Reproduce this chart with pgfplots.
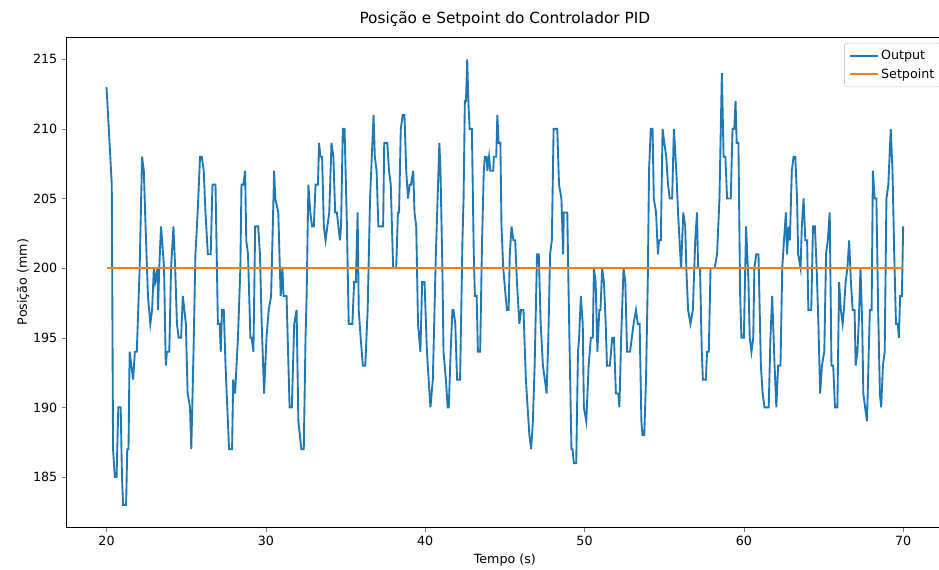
\documentclass[border=0pt]{standalone}
\usepackage{pgfplots}
\pgfplotsset{compat=1.18}
\usepackage{fontspec}
\setmainfont{DejaVu Sans}
\definecolor{tabblue}{HTML}{1F77B4}
\definecolor{taborange}{HTML}{FF7F0E}
\begin{document}
\begin{tikzpicture}
\begin{axis}[
  width=657pt, height=367.5pt, scale only axis,
  xmin=17.5, xmax=72.5, ymin=181.4, ymax=216.6,
  xtick={20,30,...,70}, ytick={185,190,...,215},
  tick align=outside, major tick length=3.5pt,
  xtick pos=bottom, ytick pos=left,
  tick label style={font=\fontsize{9.5}{11}\selectfont},
  /pgf/number format/assume math mode=true,
  /pgf/number format/1000 sep={},
  title={Posição e Setpoint do Controlador PID},
  title style={font=\fontsize{11.5}{13}\selectfont, yshift=-2pt},
  xlabel={Tempo (s)}, ylabel={Posição (mm)},
  label style={font=\fontsize{9.5}{11}\selectfont},
  xlabel style={yshift=1pt}, ylabel style={yshift=-4pt},
  axis line style={line width=0.6pt},
  legend style={font=\fontsize{9.5}{11}\selectfont, draw=black!20, rounded corners=2pt, at={(0.998,0.988)}, anchor=north east, row sep=1.5pt, inner sep=3pt},
  legend cell align=left,
  legend image code/.code={\draw[#1] (0pt,0pt) -- (21pt,0pt);},
  legend image post style={line width=1.5pt},
]
\addplot[tabblue, line width=1.4pt] coordinates {
(20.00,213) (20.19,209) (20.33,206) (20.41,187) (20.52,185) (20.63,185) (20.74,190) (20.89,190) (20.97,185) (21.04,183) (21.23,183) (21.30,187) (21.38,187) (21.45,194) (21.56,193) (21.67,192) (21.78,194) (21.90,194) (22.08,200) (22.23,208) (22.34,207) (22.45,203) (22.60,198) (22.75,196) (22.86,197) (22.97,200) (23.05,199) (23.20,200) (23.23,197) (23.31,200) (23.42,203) (23.49,202) (23.61,200) (23.72,193) (23.79,194) (23.94,194) (24.05,200) (24.20,203) (24.31,200) (24.42,196) (24.53,195) (24.68,195) (24.79,198) (24.98,196) (25.09,191) (25.24,190) (25.32,187) (25.46,194) (25.58,201) (25.72,204) (25.87,208) (25.98,208) (26.10,207) (26.21,204) (26.36,201) (26.54,201) (26.65,206) (26.84,206) (26.99,196) (27.10,196) (27.17,194) (27.25,197) (27.36,197) (27.47,193) (27.58,190) (27.69,187) (27.88,187) (27.95,192) (28.07,191) (28.25,195) (28.40,200) (28.47,206) (28.59,206) (28.70,207) (28.77,202) (28.88,201) (29.03,195) (29.11,195) (29.22,194) (29.33,203) (29.52,203) (29.63,201) (29.74,196) (29.89,191) (30.04,195) (30.18,197) (30.33,198) (30.52,207) (30.59,205) (30.78,204) (30.93,198) (31.04,200) (31.11,198) (31.30,198) (31.49,190) (31.63,190) (31.78,196) (31.93,197) (32.04,189) (32.23,187) (32.38,187) (32.49,195) (32.56,198) (32.67,206) (32.79,204) (32.90,203) (33.01,203) (33.12,206) (33.27,206) (33.34,209) (33.42,208) (33.53,208) (33.64,203) (33.75,202) (33.86,203) (33.98,204) (34.12,209) (34.24,208) (34.35,204) (34.46,204) (34.65,202) (34.72,203) (34.83,210) (34.94,210) (35.09,203) (35.20,196) (35.43,196) (35.54,199) (35.65,199) (35.76,204) (35.83,197) (35.95,195) (36.09,193) (36.24,193) (36.39,197) (36.54,205) (36.65,208) (36.76,211) (36.84,208) (36.95,207) (37.06,203) (37.36,203) (37.43,209) (37.62,209) (37.73,207) (37.84,206) (37.99,200) (38.18,200) (38.29,204) (38.36,204) (38.47,210) (38.59,211) (38.70,211) (38.81,207) (38.92,205) (39.03,206) (39.11,206) (39.25,207) (39.33,204) (39.44,203) (39.55,196) (39.70,194) (39.81,199) (39.96,199) (40.11,194) (40.22,192) (40.33,190) (40.48,192) (40.67,201) (40.78,205) (40.89,209) (40.96,207) (41.08,200) (41.15,194) (41.30,192) (41.41,190) (41.48,190) (41.60,194) (41.71,197) (41.78,197) (41.89,196) (42.00,192) (42.19,192) (42.34,202) (42.41,205) (42.49,212) (42.56,212) (42.64,215) (42.71,212) (42.79,210) (42.93,210) (43.05,201) (43.12,198) (43.23,198) (43.31,194) (43.45,194) (43.57,202) (43.68,207) (43.75,208) (43.86,208) (43.90,207) (44.01,208) (44.09,207) (44.27,207) (44.31,208) (44.46,208) (44.53,211) (44.61,209) (44.72,209) (44.79,203) (44.90,200) (45.05,198) (45.13,197) (45.24,197) (45.31,201) (45.42,203) (45.54,202) (45.65,202) (45.76,199) (45.91,196) (46.02,197) (46.17,197) (46.32,192) (46.43,190) (46.54,188) (46.65,187) (46.76,189) (46.87,193) (47.02,201) (47.13,201) (47.25,196) (47.39,193) (47.51,192) (47.62,191) (47.73,195) (47.84,201) (47.95,202) (48.06,210) (48.29,210) (48.40,206) (48.55,205) (48.66,201) (48.70,204) (48.92,204) (48.99,199) (49.18,187) (49.25,187) (49.33,186) (49.48,186) (49.59,194) (49.66,195) (49.77,198) (49.89,196) (49.96,190) (50.11,189) (50.26,193) (50.40,195) (50.52,195) (50.59,200) (50.70,199) (50.81,194) (50.93,197) (51.00,197) (51.11,200) (51.22,199) (51.33,196) (51.41,193) (51.59,193) (51.74,195) (51.85,195) (51.97,191) (52.12,191) (52.19,190) (52.30,195) (52.45,200) (52.56,199) (52.67,194) (52.86,194) (53.08,196) (53.23,197) (53.34,196) (53.46,196) (53.57,189) (53.64,188) (53.75,188) (53.86,192) (53.97,199) (54.05,207) (54.16,210) (54.27,210) (54.35,205) (54.49,204) (54.61,201) (54.68,202) (54.79,202) (54.90,210) (55.01,209) (55.13,208) (55.24,206) (55.35,205) (55.50,205) (55.61,210) (55.76,207) (55.87,204) (56.06,200) (56.20,204) (56.32,203) (56.39,200) (56.50,197) (56.65,196) (56.80,197) (56.95,202) (57.06,204) (57.13,200) (57.25,200) (57.36,194) (57.43,192) (57.62,192) (57.69,194) (57.80,194) (57.91,200) (58.17,200) (58.32,201) (58.47,205) (58.62,214) (58.73,208) (58.84,208) (58.95,205) (59.18,205) (59.29,210) (59.40,210) (59.48,212) (59.55,209) (59.66,209) (59.77,198) (59.85,195) (60.00,195) (60.14,203) (60.29,199) (60.37,195) (60.48,194) (60.59,195) (60.66,200) (60.78,201) (60.92,201) (61.07,193) (61.18,191) (61.30,190) (61.56,190) (61.67,195) (61.78,198) (61.93,193) (62.04,190) (62.15,193) (62.30,193) (62.41,200) (62.52,202) (62.64,204) (62.71,201) (62.82,203) (62.89,202) (63.01,207) (63.12,208) (63.23,208) (63.34,205) (63.41,201) (63.56,200) (63.64,203) (63.75,205) (63.86,202) (63.97,202) (64.05,197) (64.23,197) (64.34,203) (64.46,203) (64.57,200) (64.68,196) (64.79,191) (64.90,193) (65.05,194) (65.16,201) (65.27,202) (65.39,204) (65.50,193) (65.61,193) (65.72,190) (65.87,190) (65.98,199) (66.09,197) (66.20,196) (66.28,197) (66.39,199) (66.50,200) (66.61,202) (66.72,199) (66.83,197) (66.95,197) (67.02,193) (67.13,194) (67.21,196) (67.32,200) (67.43,196) (67.50,191) (67.61,190) (67.73,189) (67.84,194) (67.91,197) (68.02,197) (68.10,207) (68.21,205) (68.32,205) (68.43,197) (68.54,191) (68.62,190) (68.73,193) (68.84,194) (68.95,205) (69.07,206) (69.22,210) (69.33,207) (69.44,201) (69.55,196) (69.66,196) (69.73,195) (69.81,198) (69.92,198) (70.00,203)
};
\addlegendentry{Output}
\addplot[taborange, line width=1.5pt] coordinates {(20,200) (70,200)};
\addlegendentry{Setpoint}
\end{axis}
\pgfresetboundingbox
\path[use as bounding box] ([shift={(-50pt,-32pt)}]current axis.south west) rectangle ([shift={(654pt,27.75pt)}]current axis.north west);
\end{tikzpicture}
\end{document}
